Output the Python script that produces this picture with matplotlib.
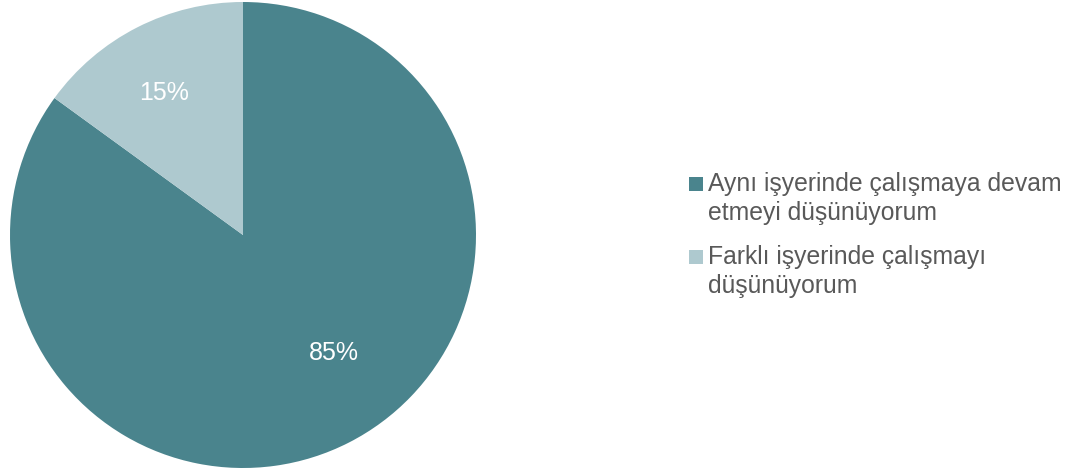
import matplotlib
matplotlib.use("Agg")
import matplotlib.pyplot as plt
from matplotlib.patches import Rectangle

plt.rcParams['font.family'] = ['Liberation Sans', 'DejaVu Sans']

labels = ["Aynı işyerinde çalışmaya devam\netmeyi düşünüyorum",
          "Farklı işyerinde çalışmayı\ndüşünüyorum"]
values = [85, 15]
colors = ["#4A848D", "#AEC9CF"]
text_color = "#595959"

W, H = 1083, 473
fig = plt.figure(figsize=(W / 100, H / 100), dpi=100)
ax = fig.add_axes([10 / W, 5 / H, 466 / W, 466 / H])

wedges, texts, autotexts = ax.pie(
    values, colors=colors, startangle=90, counterclock=False,
    autopct=lambda p: f"{p:.0f}%", pctdistance=0.66,
    textprops=dict(color="white", fontsize=18),
    wedgeprops=dict(linewidth=0),
)
# place the percentage labels inside their slices
autotexts[0].set_position((0.39, -0.505))
autotexts[1].set_position((-0.34, 0.61))
ax.set_xlim(-1, 1)
ax.set_ylim(-1, 1)
ax.set_aspect("equal")


def px(x, y):
    """Pixel coordinates (from top-left) to figure fraction."""
    return x / W, 1 - y / H


# legend: a swatch aligned with the first line of each wrapped label
first_baselines = [191, 264]
line_step = 29
for lab, col, base in zip(labels, colors, first_baselines):
    sx, sy = px(689, base)
    fig.add_artist(Rectangle((sx, sy), 14 / W, 14 / H, transform=fig.transFigure,
                             facecolor=col, edgecolor="none"))
    for i, line in enumerate(lab.split("\n")):
        tx, ty = px(708, base + i * line_step)
        fig.text(tx, ty, line, fontsize=17.8, color=text_color,
                 ha="left", va="baseline")

fig.savefig("out.png", dpi=100)
